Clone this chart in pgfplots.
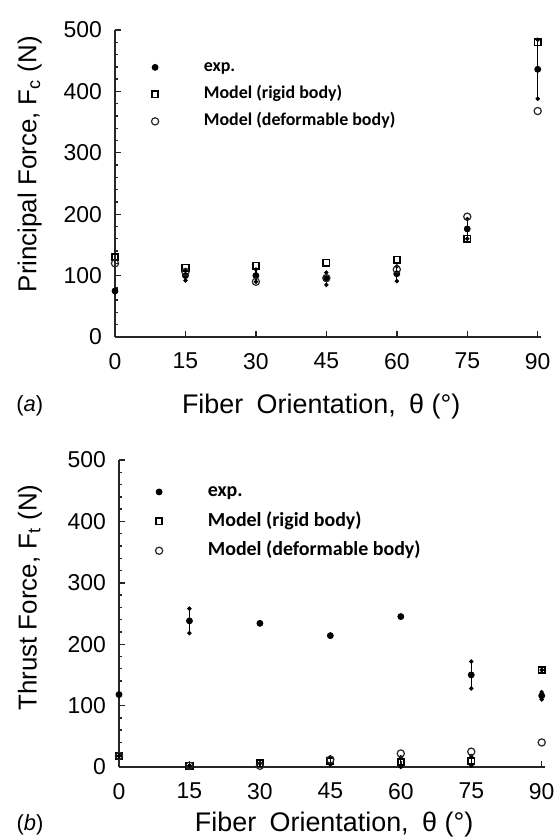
\documentclass[border=0pt]{standalone}
\usepackage{fontspec}
\setmainfont{Liberation Sans}
\newfontfamily\legfont{Carlito}
\usepackage{pgfplots}
\usepackage{pgfplotstable}
\pgfplotsset{compat=1.18}

% principal force, panel (a)
\pgfplotstableread{
theta exp err rigid def
0  75  0  130 120
15 100 8  113 106
30 100 10 116 90
45 95  10 121 96
60 103 12 126 110
75 176 16 160 196
90 436 48 480 368
}\dataA

% thrust force, panel (b)
\pgfplotstableread{
theta exp err rigid rerr def
0  118 0  18  0 18
15 238 20 2   0 2
30 234 0  6   0 2
45 214 0  10  6 12
60 245 0  8   8 22
75 150 22 10  8 25
90 116 6  158 0 40
}\dataB

\pgfplotsset{
  panel/.style={
    scale only axis, width=213bp, height=153.5bp,
    xmin=0, xmax=90.7, ymin=0, ymax=500,
    axis lines=left, axis line style={-, line width=0.9bp, black!85},
    xtick={0,15,...,90}, ytick={0,100,...,500},
    minor y tick num=4, tick align=inside,
    major tick length=3bp, minor tick length=1.6bp,
    tick style={black!85, line width=0.7bp},
    ticklabel style={font=\fontsize{11.5}{13}\selectfont},
    xticklabel style={yshift=-4.5bp},
    yticklabel style={xshift=-3bp},
    /pgf/number format/assume math mode=true,
    label style={font=\fontsize{13}{15}\selectfont},
    clip=false,
    legend image code/.code={\draw[##1] plot coordinates {(0.25cm,0cm)}; \path (0cm,0cm) (1.05cm,0cm);},
  },
  expst/.style={only marks, mark=*, black, mark size=1.5bp},
  rigst/.style={only marks, mark=square, black, mark size=1.6bp, mark options={line width=0.9bp}},
  defst/.style={only marks, mark=o, black!85, mark size=1.8bp, mark options={line width=0.6bp}},
  ebar/.style={error bars/.cd, y dir=both, y explicit,
    error bar style={line width=0.6bp, black}, error mark=*, error mark options={mark size=0.9bp, black}},
}

\begin{document}
\begin{tikzpicture}
\path[use as bounding box, fill=white] (-57.5bp,-250.5bp) rectangle (220.5bp,168.5bp);

\begin{axis}[panel, at={(0,0)}, anchor=south west,
  xlabel={Fiber\enspace Orientation,\enspace θ (°)},
  ylabel={Principal Force, F\textsubscript{c} (N)},
  xlabel style={at={(axis description cs:0.484,-0.225)}, anchor=center, font=\fontsize{13.5}{15}\selectfont},
  ylabel style={at={(axis description cs:-0.2,0.563)}, anchor=center, rotate=0},
  legend style={at={(axis description cs:0.045,0.93)}, anchor=north west, draw=none, fill=none,
    font=\legfont\bfseries\fontsize{9}{10}\selectfont, row sep=2bp,
    nodes={inner sep=1.5bp, text height=6.5bp, text depth=2bp}},
  legend cell align=left,
]
\addplot[expst, ebar] table[x=theta, y=exp, y error=err] {\dataA};
\addlegendentry{exp.}
\addplot[rigst] table[x=theta, y=rigid] {\dataA};
\addlegendentry{Model (rigid body)}
\addplot[defst] table[x=theta, y=def] {\dataA};
\addlegendentry{Model (deformable body)}
\node[font=\fontsize{11}{13}\selectfont] at (axis description cs:-0.2,-0.225) {(\textit{a})};
\end{axis}

\begin{axis}[panel, at={(2bp,-215bp)}, anchor=south west,
  xlabel={Fiber\enspace Orientation,\enspace θ (°)},
  ylabel={Thrust Force, F\textsubscript{t} (N)},
  xlabel style={at={(axis description cs:0.505,-0.189)}, anchor=center, font=\fontsize{13.5}{15}\selectfont},
  ylabel style={at={(axis description cs:-0.209,0.552)}, anchor=center, rotate=0},
  legend style={at={(axis description cs:0.045,0.95)}, anchor=north west, draw=none, fill=none,
    font=\legfont\bfseries\fontsize{10}{11}\selectfont, row sep=2.5bp,
    nodes={inner sep=1.5bp, text height=7bp, text depth=2.2bp}},
  legend cell align=left,
]
\addplot[expst, ebar] table[x=theta, y=exp, y error=err] {\dataB};
\addlegendentry{exp.}
\addplot[rigst, ebar] table[x=theta, y=rigid, y error=rerr] {\dataB};
\addlegendentry{Model (rigid body)}
\addplot[defst] table[x=theta, y=def] {\dataB};
\addlegendentry{Model (deformable body)}
\node[font=\fontsize{11}{13}\selectfont] at (axis description cs:-0.209,-0.189) {(\textit{b})};
\end{axis}
\end{tikzpicture}
\end{document}
